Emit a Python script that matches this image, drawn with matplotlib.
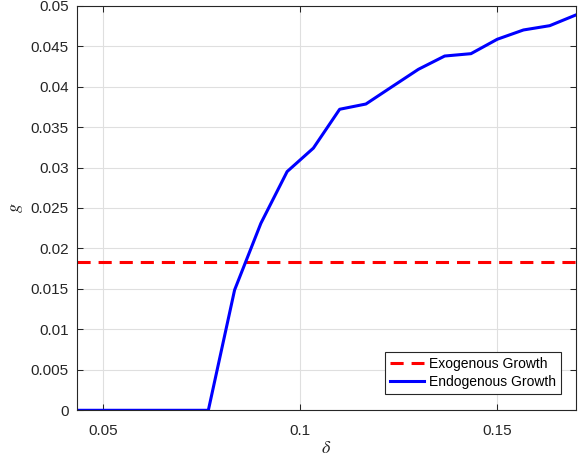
import numpy as np
import matplotlib.pyplot as plt

plt.rcParams['font.family'] = ['Liberation Sans', 'DejaVu Sans']
plt.rcParams['mathtext.fontset'] = 'stix'

# depreciation rate grid and growth rates
delta = np.arange(13, 52, 2) / 300.0
g_endo = [0, 0, 0, 0, 0, 0.0, 0.01487, 0.0231, 0.0295, 0.0324, 0.0372, 0.03785,
          0.0400, 0.04214, 0.04378, 0.04407, 0.04585, 0.0470, 0.04753, 0.04886]
g_exo = 0.01836

fig = plt.figure(figsize=(5.8, 4.59), dpi=100)
ax = fig.add_axes([0.1328, 0.1061, 0.8603, 0.8815])

ax.plot(delta, np.full(len(delta), g_exo), '--', color='#ff0000', lw=2.2,
        dashes=(4.3, 2.6), label='Exogenous Growth')
ax.plot(delta, g_endo, '-', color='#0000ff', lw=2.2, label='Endogenous Growth')

ax.set_xlim(delta[0], delta[-1])
ax.set_ylim(0, 0.05)
ax.set_xticks([0.05, 0.1, 0.15])
ax.set_xticklabels(['0.05', '0.1', '0.15'])
yt = np.arange(0, 0.0501, 0.005)
ax.set_yticks(yt)
ax.set_yticklabels(['0', '0.005', '0.01', '0.015', '0.02', '0.025', '0.03',
                    '0.035', '0.04', '0.045', '0.05'])

ax.grid(True, color='#dfdfdf', lw=0.8)
ax.set_axisbelow(True)
ax.tick_params(direction='in', length=4, width=0.75, colors='#262626',
               labelsize=11, top=True, right=True, pad=6)
ax.tick_params(axis='x', pad=10)
for s in ax.spines.values():
    s.set_color('#262626')
    s.set_linewidth(0.8)

ax.set_xlabel(r'$\delta$', fontsize=13, color='#262626', labelpad=1)
ax.set_ylabel(r'$g$', fontsize=13, color='#262626', labelpad=4)

leg = ax.legend(loc='lower right', fontsize=10, handlelength=2.4,
                fancybox=False, framealpha=1, borderpad=0.35,
                labelspacing=0.3, handletextpad=0.4, borderaxespad=0,
                bbox_to_anchor=(0.970, 0.040))
leg.get_frame().set_edgecolor('#262626')
leg.get_frame().set_linewidth(0.8)

fig.savefig('out.png', dpi=100)
